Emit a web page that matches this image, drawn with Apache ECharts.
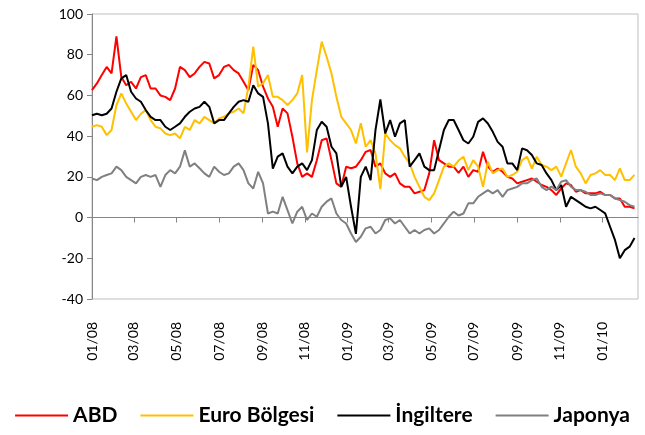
<!DOCTYPE html>
<html>
<head>
<meta charset="utf-8">
<script src="https://cdn.jsdelivr.net/npm/echarts@6/dist/echarts.min.js"></script>
<style>
  html, body { margin: 0; padding: 0; background: #fff; }
  #chart { width: 645px; height: 435px; }
</style>
</head>
<body>
<div id="chart"></div>
<script>
// haftalik gozlemler, 01.01.2008'den itibaren
var startDay = Date.UTC(2008, 0, 1)
var endDay = Date.UTC(2010, 1, 21)
var stepDays = 7

var tickLabels = ['01/08', '03/08', '05/08', '07/08', '09/08', '11/08', '01/09',
  '03/09', '05/09', '07/09', '09/09', '11/09', '01/10']

var seriesNames = ['ABD', 'Euro Bölgesi', 'İngiltere', 'Japonya']
var colors = ['#ff0000', '#ffc000', '#000000', '#808080']

var abd = [62.6, 65.9, 70, 74, 70.8, 89, 69, 65, 66.7, 63.4, 69, 70, 63.4, 63.4, 60, 59.3, 57.7, 63.4, 74,
  72.4, 69, 70.8, 74, 76.5, 75.7, 68.4, 70, 74, 75, 72.4, 70.8, 66.7, 62.6, 75, 72.4, 64.3, 58.5, 54.4,
  44.6, 53.6, 51.2, 39.7, 26.6, 20, 21.7, 20, 28.2, 38, 38.9, 28.2, 16.8, 15.1, 25, 24.2, 25, 28.2, 32.3,
  33.2, 25, 26.6, 21.7, 20, 21.7, 16.8, 15.1, 15.1, 11.9, 12.7, 13.5, 21.7, 38, 28.2, 26.6, 25, 25, 22,
  25, 20, 23.3, 22.5, 32.3, 25, 22.5, 24.1, 22.5, 20, 19.2, 16.8, 17.6, 18.4, 19.2, 17.6, 16, 15.1,
  13.5, 11.1, 14.3, 16.8, 16, 12.7, 13.5, 11.9, 11.9, 11.9, 12.7, 11.1, 11.1, 9.4, 9.4, 5.3, 5.3, 4.5]

var euro = [44.6, 45.4, 44.6, 40.5, 43, 55.3, 61, 56, 52, 47.9, 51, 52.8, 47.9, 44.6, 43.8, 41.3, 40.5, 41.3, 38.9,
  44.6, 43, 47.9, 46.3, 49.5, 47.9, 46.3, 48.7, 49.5, 51.2, 52, 53.6, 51.2, 64.3, 84, 64.3, 66, 70, 59.3,
  59.3, 57.7, 55.3, 57.7, 61, 70, 32, 57.7, 72.4, 86.4, 79, 70.8, 59.3, 49.5, 46.3, 43, 36.4, 46.3, 34.8,
  38, 31.5, 14, 41.3, 38, 35.6, 34, 29.9, 26.6, 20, 15.1, 10.2, 8.6, 11.9, 18.4, 25, 26.6, 25, 28,
  29.9, 23.3, 28.2, 25, 15.1, 27.4, 21.7, 23.3, 24.1, 20, 20.9, 22.5, 28.2, 29.9, 24.1, 29.9, 25.8, 25,
  23.3, 25, 20.1, 26.6, 33.2, 25, 21.7, 16.8, 20.9, 21.7, 23.3, 20.9, 20.9, 18.4, 24.2, 18.4, 18.4, 21]

var ingiltere = [50.3, 51, 50.3, 51, 53.6, 61.8, 68.4, 70, 61.8, 58.5, 56.9, 52.8, 49.5, 47.9, 47.9, 44.6, 43, 44.6, 46.3,
  49.5, 52, 53.6, 54.4, 56.9, 54.4, 46.3, 47.9, 47.9, 51.2, 54.4, 56.9, 57.7, 56.9, 65, 61, 59.3, 46.3, 24,
  29.9, 31.5, 25, 21.7, 25, 26.6, 23.3, 28.2, 43, 47.1, 44.6, 34.8, 31.5, 15.1, 20, 5.3, -8, 20, 25,
  18.4, 43, 58, 41.3, 47.9, 39.7, 46.3, 47.9, 25, 28.2, 31.5, 25, 23.3, 23.3, 33.2, 43, 47.9, 47.9, 43,
  38, 36.4, 39.7, 47, 48.7, 46.2, 42.1, 37.2, 34.8, 26.6, 26.6, 23.3, 34, 33.1, 30.7, 26.6, 25.8, 21.7,
  18.4, 13.5, 16, 5.3, 10.2, 8.6, 7, 5.3, 4.5, 5.3, 3.7, 2.1, -4.5, -11, -20, -16, -14.3, -10]

var japonya = [19.2, 18.4, 20, 20.9, 21.7, 25, 23.3, 20, 18.4, 16.8, 20, 20.9, 20, 20.9, 15.1, 20.9, 23.3, 21.7, 25,
  33, 25, 26.6, 24.2, 21.7, 20, 25, 22.5, 20.9, 21.7, 25, 26.6, 23.3, 16.8, 14.3, 22.5, 16.8, 2, 2.9,
  2, 10.2, 3.7, -2.9, 2.9, 5.3, -1.2, 2, 0.4, 5.3, 7.8, 9.4, 2, -1.2, -2.9, -7.8, -12, -9.4, -5.3,
  -4.5, -7.8, -6.1, -1.2, -0.4, -2.9, -1.2, -4.5, -7.8, -6.1, -7.8, -6.1, -5.3, -7.8, -6.1, -2.9, 0.4, 2.9, 1,
  2, 7, 7, 10.2, 11.9, 13.5, 11.9, 13.5, 10.2, 13.5, 14.3, 15.1, 16.8, 16.8, 18.4, 19.2, 15.1, 13.5,
  15.2, 13.5, 17.6, 18.4, 15.2, 13.5, 13.5, 12.7, 11.1, 11.1, 11.9, 11.1, 11.1, 9.4, 8.6, 7.8, 6.1, 5.3]

var allValues = [abd, euro, ingiltere, japonya]

// '01/08' -> 2008-01-01 zaman damgasi
var tickValues = tickLabels.map(function (s) {
  var p = s.split('/')
  return Date.UTC(2000 + Number(p[1]), Number(p[0]) - 1, 1)
})

function dateAt(i) {
  return startDay + i * stepDays * 86400000
}

function fmt(v) {
  var idx = tickValues.indexOf(v)
  return idx >= 0 ? tickLabels[idx] : ''
}

var chart = echarts.init(document.getElementById('chart'))

var series = seriesNames.map(function (name, k) {
  return {
    name: name,
    type: 'line',
    xAxisIndex: 0,
    showSymbol: false,
    symbol: 'none',
    lineStyle: { width: 2, color: colors[k] },
    itemStyle: { color: colors[k] },
    data: allValues[k].map(function (v, i) { return [dateAt(i), v] })
  }
})

var option = {
  animation: false,
  backgroundColor: '#fff',
  color: colors,
  textStyle: { fontFamily: 'Lato' },
  grid: {
    left: 92,
    right: 7,
    top: 14,
    bottom: 136,
    show: true,
    borderColor: '#bfbfbf',
    borderWidth: 1
  },
  legend: {
    data: seriesNames,
    left: 'center',
    top: 400,
    icon: 'rect',
    itemWidth: 53,
    itemHeight: 2,
    itemGap: 23,
    textStyle: { fontFamily: 'Lato', fontWeight: 'bold', fontSize: 21, color: '#000' }
  },
  xAxis: [
    {
      type: 'value',
      position: 'bottom',
      min: startDay,
      max: endDay,
      axisLine: { show: false, onZero: false },
      axisTick: { show: false },
      splitLine: { show: false },
      axisLabel: {
        customValues: tickValues,
        rotate: 90,
        margin: 23,
        fontSize: 14,
        fontFamily: 'Lato',
        color: '#000',
        formatter: fmt
      }
    },
    {
      type: 'value',
      position: 'bottom',
      min: startDay,
      max: endDay,
      axisLine: { show: true, onZero: true, lineStyle: { color: '#868686', width: 1 } },
      axisTick: { show: true, customValues: tickValues, length: 5, lineStyle: { color: '#868686' } },
      axisLabel: { show: false },
      splitLine: { show: false }
    }
  ],
  yAxis: {
    type: 'value',
    min: -40,
    max: 100,
    interval: 20,
    axisLine: { show: true, lineStyle: { color: '#868686', width: 1 } },
    axisTick: { show: true, length: 5, lineStyle: { color: '#868686' } },
    splitLine: { show: false },
    axisLabel: { fontSize: 14, fontFamily: 'Lato', color: '#000', margin: 9 }
  },
  series: series
}

chart.setOption(option)
</script>
</body>
</html>
